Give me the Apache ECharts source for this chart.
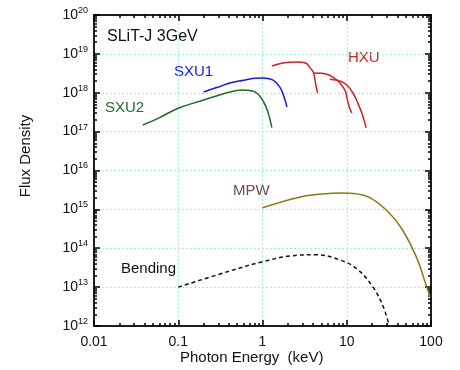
<!DOCTYPE html>
<html>
<head>
<meta charset="UTF-8">
<title>SLiT-J Flux Density</title>
<script src="https://cdn.jsdelivr.net/npm/echarts@6/dist/echarts.min.js"></script>
<style>
  html, body { margin: 0; padding: 0; background: #fff; }
  #chart { width: 460px; height: 370px; }
</style>
</head>
<body>
<div id="chart"></div>
<script>
// photon energy (keV) / flux density
var sxu1E = [0.2, 0.3, 0.41, 0.6, 0.8, 1.0, 1.32, 1.6, 1.8, 1.95];
var sxu1F = [1.05e18, 1.41e18, 1.78e18, 2.1e18, 2.35e18, 2.4e18, 2.14e18, 1.41e18, 7.9e17, 4.3e17];

var sxu2E = [0.038, 0.06, 0.1, 0.2, 0.41, 0.58, 0.81, 1.0, 1.16, 1.29];
var sxu2F = [1.48e17, 2.3e17, 4.0e17, 6.5e17, 1.05e18, 1.17e18, 1.05e18, 6.5e17, 3.2e17, 1.26e17];

var hxu1E = [1.29, 1.8, 2.57, 3.3, 3.6, 4.0, 4.3, 4.5];
var hxu1F = [4.9e18, 5.9e18, 6.2e18, 5.75e18, 4.6e18, 3.4e18, 1.58e18, 9.8e17];

var hxu2E = [3.98, 5.8, 7.6, 8.3, 9.5, 10, 10.7, 11.5];
var hxu2F = [3.2e18, 3.0e18, 2.14e18, 1.78e18, 1.17e18, 7.9e17, 4.3e17, 3.0e17];

var hxu3E = [6.3, 8.3, 10, 11.8, 13.5, 15.1, 17];
var hxu3F = [2.24e18, 2.0e18, 1.58e18, 1.0e18, 5.5e17, 3.0e17, 1.26e17];

var mpwE = [1, 2.6, 5.2, 9, 12, 18.8, 32, 46, 67, 89, 98];
var mpwF = [1.1e15, 2.0e15, 2.5e15, 2.63e15, 2.57e15, 2.0e15, 8.1e14, 2.95e14, 6.0e13, 1.0e13, 5.6e12];

var bendE = [0.1, 0.41, 1, 2.1, 4.4, 8.3, 13.2, 20.5, 27, 32];
var bendF = [1.0e13, 2.6e13, 4.5e13, 6.3e13, 6.8e13, 5.0e13, 2.95e13, 1.0e13, 3.2e12, 1.0e12];

// minor tick positions for the log axes
var xMinor = [];
[0.01, 0.1, 1, 10].forEach(function (d) {
  for (var k = 2; k <= 9; k++) xMinor.push(+(d * k).toPrecision(3));
});
var yMinor = [];
for (var p = 12; p < 20; p++) {
  for (var k = 2; k <= 9; k++) yMinor.push(k * Math.pow(10, p));
}

function pairs(xs, ys) {
  return xs.map(function (x, i) { return [x, ys[i]]; });
}

var FONT = 'Liberation Sans, Arial, sans-serif';
var INK = '#111';

function xAx(pos, minor, labels) {
  var tick = { show: true, inside: true, length: minor ? 3 : 6, lineStyle: { color: '#000', width: 1.5 } };
  if (minor) tick.customValues = xMinor;
  return {
    type: 'log', logBase: 10, min: 0.01, max: 100, position: pos,
    axisLine: { show: true, lineStyle: { color: INK, width: 1.5 } },
    axisTick: tick,
    axisLabel: labels ? {
      show: true, color: INK, fontSize: 14, fontFamily: FONT, margin: 9,
      formatter: function (v) { return String(v); }
    } : { show: false },
    splitLine: { show: labels, lineStyle: { color: '#a6ecd8', type: [2, 2], width: 1 } }
  };
}

function yAx(pos, minor, labels) {
  var tick = { show: true, inside: true, length: minor ? 3 : 6, lineStyle: { color: '#000', width: 1.5 } };
  if (minor) tick.customValues = yMinor;
  return {
    type: 'log', logBase: 10, min: 1e12, max: 1e20, position: pos,
    axisLine: { show: true, lineStyle: { color: INK, width: 1.5 } },
    axisTick: tick,
    axisLabel: labels ? {
      show: true, margin: 6,
      formatter: function (v) {
        var e = Math.round(Math.log10(v));
        return '{b|10}{s|' + e + '}';
      },
      rich: {
        b: { fontSize: 14, color: INK, fontFamily: FONT, lineHeight: 18, verticalAlign: 'middle' },
        s: { fontSize: 9, color: INK, fontFamily: FONT, lineHeight: 10, verticalAlign: 'top' }
      }
    } : { show: false },
    splitLine: { show: labels, lineStyle: { color: '#a6ecd8', type: [2, 2], width: 1 } }
  };
}

var chart = echarts.init(document.getElementById('chart'));

function line(data, color, dashed) {
  return {
    type: 'line', data: data, xAxisIndex: 0, yAxisIndex: 0,
    showSymbol: false, smooth: 0.4, animation: false,
    lineStyle: { color: color, width: 1.5, type: dashed ? [4, 3] : 'solid' }
  };
}

chart.setOption({
  animation: false,
  grid: { left: 94, right: 29, top: 15, bottom: 44 },
  xAxis: [xAx('bottom', false, true), xAx('top', false, false), xAx('bottom', true, false), xAx('top', true, false)],
  yAxis: [yAx('left', false, true), yAx('right', false, false), yAx('left', true, false), yAx('right', true, false)],
  series: [
    line(pairs(bendE, bendF), INK, true),
    line(pairs(mpwE, mpwF), '#8a7a12'),
    line(pairs(sxu2E, sxu2F), '#1d6b2c'),
    line(pairs(sxu1E, sxu1F), '#1818e6'),
    line(pairs(hxu1E, hxu1F), '#d42222'),
    line(pairs(hxu2E, hxu2F), '#d42222'),
    line(pairs(hxu3E, hxu3F), '#d42222')
  ],
  graphic: [
    { type: 'text', left: 107, top: 29, style: { text: 'SLiT-J 3GeV', fill: INK, font: '16px ' + FONT } },
    { type: 'text', left: 174, top: 64, style: { text: 'SXU1', fill: '#1818e6', font: '15px ' + FONT } },
    { type: 'text', left: 105, top: 100, style: { text: 'SXU2', fill: '#1d6b2c', font: '15px ' + FONT } },
    { type: 'text', left: 348, top: 50, style: { text: 'HXU', fill: '#d42222', font: '15px ' + FONT } },
    { type: 'text', left: 233, top: 183, style: { text: 'MPW', fill: '#6e4c48', font: '15px ' + FONT } },
    { type: 'text', left: 121, top: 261, style: { text: 'Bending', fill: INK, font: '15px ' + FONT } },
    { type: 'text', left: 180, top: 350, style: { text: 'Photon Energy  (keV)', fill: INK, font: '15px ' + FONT } },
    { type: 'text', x: 26, y: 156, rotation: Math.PI / 2,
      style: { text: 'Flux Density', fill: INK, font: '15px ' + FONT, textAlign: 'center', textVerticalAlign: 'middle' } }
  ]
});
</script>
</body>
</html>
